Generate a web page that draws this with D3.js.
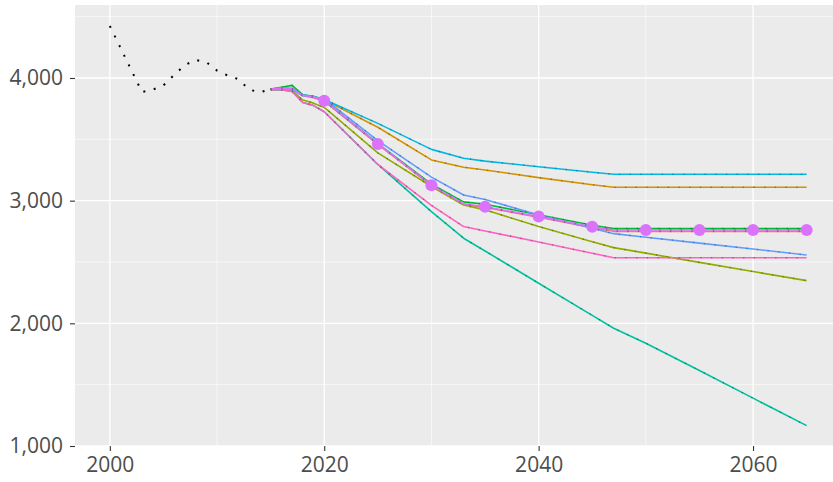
<!DOCTYPE html>
<html>
<head>
<meta charset="utf-8">
<script src="https://cdn.jsdelivr.net/npm/d3@7"></script>
<style>
  body { margin: 0; background: #fff; }
  text { font-family: "Open Sans", sans-serif; }
</style>
</head>
<body>
<div id="chart"></div>
<script>
// historical series (dotted black)
const histYears = [2000, 2001, 2002, 2003, 2004, 2005, 2006, 2007, 2008, 2009, 2010, 2011, 2012, 2013, 2014, 2015];
const histValues = [4424, 4245, 4065, 3885, 3905, 3940, 4025, 4105, 4147, 4130, 4060, 4020, 3990, 3905, 3883, 3908];

// projection years shared by every scenario
const projYears = [2015, 2016, 2017, 2018, 2019, 2020, 2025, 2030, 2033, 2035, 2040, 2045, 2047, 2050, 2055, 2060, 2065];

// scenario values, in ggplot factor order
const redValues     = [3910, 3915, 3908, 3855, 3840, 3812, 3458, 3122, 2970, 2945, 2865, 2780, 2750, 2750, 2750, 2750, 2750];
const orangeValues  = [3910, 3915, 3910, 3860, 3848, 3822, 3598, 3332, 3272, 3250, 3188, 3130, 3109, 3109, 3109, 3109, 3109];
const oliveValues   = [3905, 3905, 3897, 3820, 3795, 3760, 3390, 3115, 2965, 2925, 2789, 2665, 2617, 2572, 2497, 2422, 2348];
const greenValues   = [3910, 3925, 3940, 3862, 3848, 3815, 3465, 3135, 2990, 2971, 2885, 2800, 2772, 2772, 2772, 2772, 2772];
const tealValues    = [3905, 3905, 3890, 3800, 3775, 3725, 3295, 2910, 2694, 2590, 2327, 2065, 1960, 1838, 1615, 1390, 1166];
const cyanValues    = [3910, 3918, 3915, 3862, 3850, 3825, 3630, 3418, 3346, 3322, 3277, 3232, 3215, 3215, 3215, 3215, 3215];
const blueValues    = [3910, 3915, 3905, 3855, 3845, 3830, 3490, 3192, 3046, 3010, 2883, 2775, 2731, 2702, 2654, 2606, 2557];
const magentaValues = [3910, 3915, 3910, 3858, 3845, 3815, 3462, 3126, 2975, 2951, 2870, 2788, 2761, 2761, 2761, 2761, 2761];
const pinkValues    = [3905, 3905, 3890, 3800, 3775, 3725, 3295, 2962, 2789, 2753, 2663, 2571, 2535, 2535, 2535, 2535, 2535];

// the marked scenario gets points every five years
const pointYears = [2020, 2025, 2030, 2035, 2040, 2045, 2050, 2055, 2060, 2065];
const pointValues = [3815, 3462, 3126, 2951, 2870, 2788, 2761, 2761, 2761, 2761];

// axis ticks
const xTicks = [2000, 2020, 2040, 2060];
const xMinor = [2010, 2030, 2050];
const yTicks = [1000, 2000, 3000, 4000];
const yMinor = [1500, 2500, 3500, 4500];

const series = [
  {color: '#F8766D', values: redValues},
  {color: '#D39200', values: orangeValues},
  {color: '#93AA00', values: oliveValues},
  {color: '#00BA38', values: greenValues},
  {color: '#00C19F', values: tealValues},
  {color: '#00B9E3', values: cyanValues},
  {color: '#619CFF', values: blueValues},
  {color: '#DB72FB', values: magentaValues},
  {color: '#FF61C3', values: pinkValues},
];

const width = 833;
const height = 482;
const margin = {left: 75, right: 0, top: 5, bottom: 36};

const svg = d3.select('#chart')
  .append('svg')
  .attr('width', width)
  .attr('height', height);

// x domain carries ggplot's 5% expansion; the panel runs past the right edge
const x = d3.scaleLinear()
  .domain([1996.75, 2068.25])
  .range([margin.left, margin.left + 71.5 * 10.72]);
const y = d3.scaleLinear()
  .domain([1000, 4595])
  .range([height - margin.bottom, margin.top]);

const panelBottom = height - margin.bottom;

// panel background
svg.append('rect')
  .attr('x', margin.left)
  .attr('y', margin.top)
  .attr('width', x.range()[1] - margin.left)
  .attr('height', panelBottom - margin.top)
  .attr('fill', '#EBEBEB');

// grid lines, minor first
const grid = svg.append('g');
grid.selectAll('.xminor').data(xMinor).join('line')
  .attr('x1', d => x(d)).attr('x2', d => x(d))
  .attr('y1', margin.top).attr('y2', panelBottom)
  .attr('stroke', '#fff').attr('stroke-width', 0.6);
grid.selectAll('.yminor').data(yMinor).join('line')
  .attr('x1', margin.left).attr('x2', x.range()[1])
  .attr('y1', d => y(d)).attr('y2', d => y(d))
  .attr('stroke', '#fff').attr('stroke-width', 0.6);
grid.selectAll('.xmajor').data(xTicks).join('line')
  .attr('x1', d => x(d)).attr('x2', d => x(d))
  .attr('y1', margin.top).attr('y2', panelBottom)
  .attr('stroke', '#fff').attr('stroke-width', 1.3);
grid.selectAll('.ymajor').data(yTicks).join('line')
  .attr('x1', margin.left).attr('x2', x.range()[1])
  .attr('y1', d => y(d)).attr('y2', d => y(d))
  .attr('stroke', '#fff').attr('stroke-width', 1.3);

const line = d3.line()
  .x(d => x(d[0]))
  .y(d => y(d[1]));

// historical dotted line
svg.append('path')
  .datum(d3.zip(histYears, histValues))
  .attr('d', line)
  .attr('fill', 'none')
  .attr('stroke', '#000')
  .attr('stroke-width', 2)
  .attr('stroke-dasharray', '2,8.7');

// scenario lines, each with a faint dark dotted trace on top
const lines = svg.append('g');
series.forEach(s => {
  const pts = d3.zip(projYears, s.values);
  lines.append('path')
    .datum(pts)
    .attr('d', line)
    .attr('fill', 'none')
    .attr('stroke', s.color)
    .attr('stroke-width', 1.6)
    .attr('stroke-linejoin', 'round');
  lines.append('path')
    .datum(pts)
    .attr('d', line)
    .attr('fill', 'none')
    .attr('stroke', 'rgba(0,0,0,0.28)')
    .attr('stroke-width', 1.6)
    .attr('stroke-dasharray', '1.3,9.4');
});

// points of the marked scenario
svg.append('g')
  .selectAll('circle')
  .data(d3.zip(pointYears, pointValues))
  .join('circle')
  .attr('cx', d => x(d[0]))
  .attr('cy', d => y(d[1]))
  .attr('r', 6)
  .attr('fill', '#DB72FB');

// axes
const xAxis = svg.append('g')
  .attr('transform', `translate(0,${panelBottom})`)
  .call(d3.axisBottom(x).tickValues(xTicks).tickSize(5).tickPadding(6).tickFormat(d3.format('d')));
const yAxis = svg.append('g')
  .attr('transform', `translate(${margin.left},0)`)
  .call(d3.axisLeft(y).tickValues(yTicks).tickSize(5).tickPadding(7).tickFormat(d3.format(',')));

[xAxis, yAxis].forEach(ax => {
  ax.select('.domain').remove();
  ax.selectAll('.tick line').attr('stroke', '#333').attr('stroke-width', 1.1);
  ax.selectAll('.tick text')
    .attr('fill', '#4D4D4D')
    .style('font-size', '21px');
});
</script>
</body>
</html>
